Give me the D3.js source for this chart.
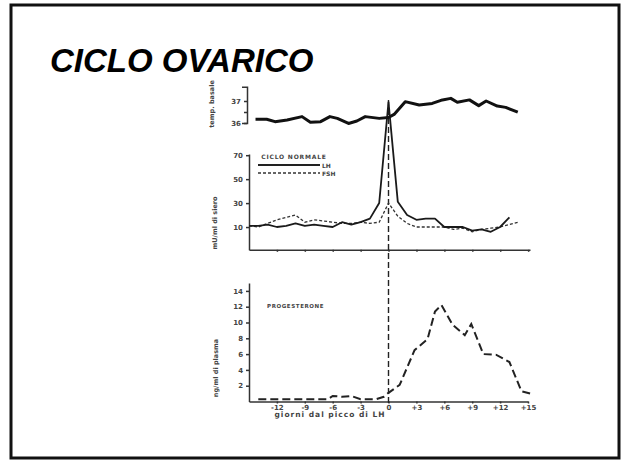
<!DOCTYPE html>
<html><head><meta charset="utf-8">
<script src="https://cdn.jsdelivr.net/npm/d3@7"></script>
<style>body{margin:0;background:#fff}svg{display:block}</style>
</head><body><svg id="c" width="623" height="461"></svg>
<script>
// ---- data ----
const title = "CICLO OVARICO";
const xTicks = [-12, -9, -6, -3, 0, 3, 6, 9, 12, 15];

const tempDays = [-14.3,-13.1,-12.2,-10.9,-9.3,-8.4,-7.3,-6.3,-5.5,-4.3,-3.4,-2.5,-1,0,0.6,1.8,3.3,4.7,5.8,6.7,7.4,8.7,9.7,10.5,11.7,12.6,13.9];
const tempVals = [36.17,36.17,36.06,36.14,36.29,36.03,36.06,36.29,36.21,35.98,36.09,36.29,36.21,36.25,36.39,36.97,36.82,36.89,37.05,37.12,36.94,37.05,36.79,37.0,36.77,36.71,36.49];
const tempTicks = [36, 36.5, 37];

const hormDays = [-15,-14,-13,-12,-11,-10,-9,-8,-7,-6,-5,-4,-3,-2,-1,0,1,2,3,4,5,6,7,8,9,10,11,12,13];
const lhVals  = [11,11,12,10,11,13,11,12,11,10,14,12,14,17,30,114,31,20,16,17,17,10,10,10,7,8,6,10,18];
const fshDays = [-15,-14,-13,-12,-11,-10,-9,-8,-7,-6,-5,-4,-3,-2,-1,0,1,2,3,4,5,6,7,8,9,10,11,12,13,14];
const fshVals = [11,10,13,16,18,20,14,16,15,14,13,13,14,13,14,30,19,13,10,10,10,10,8,9,6,8,9,10,12,14];
const hormTicks = [10, 30, 50, 70];

const progDays = [-14,-6.5,-6,-5,-4,-3,-1.3,-0.5,0,1.2,2.8,4.2,5,5.7,6.9,8.2,8.9,10.2,11.6,13,14.3,15.6];
const progVals = [0.3,0.3,0.7,0.6,0.7,0.3,0.3,0.6,1.1,2.1,6.5,7.9,11.4,12.2,9.7,8.4,9.8,6.0,5.9,5.0,1.3,0.9];
const progTicks = [2, 4, 6, 8, 10, 12, 14];

// ---- drawing ----
const svg = d3.select("#c");
svg.append("rect").attr("x", 11).attr("y", 5).attr("width", 608).attr("height", 453)
  .attr("fill", "#fff").attr("stroke", "#111").attr("stroke-width", 3);

svg.append("text").attr("x", 50).attr("y", 72).text(title)
  .attr("font-family", "Liberation Sans, Arial, sans-serif").attr("font-weight", "bold")
  .attr("font-style", "italic").attr("font-size", 33).attr("fill", "#000");

const x = d3.scaleLinear().domain([-15, 15]).range([249, 528]);
const yT = d3.scaleLinear().domain([36, 37]).range([123, 101]);
const yH = d3.scaleLinear().domain([-9, 70]).range([249.8, 155]);
const yP = d3.scaleLinear().domain([0, 14]).range([401.5, 290.9]);

const tickFont = g => g.selectAll("text").attr("font-family", "DejaVu Sans, sans-serif")
  .attr("font-weight", "bold").attr("font-size", 7).attr("fill", "#444");
const axStyle = g => { g.selectAll("path,line").attr("stroke", "#333").attr("stroke-width", 1.5); tickFont(g); };

// temperature axis
const yTax = yT.copy().domain([36, 37.65]).range([123, 86.7]);
svg.append("g").attr("transform", "translate(247,0)")
  .call(d3.axisLeft(yTax).tickValues(tempTicks).tickSize(3).tickSizeOuter(5).tickPadding(3)
    .tickFormat(d => d % 1 === 0 ? d : ""))
  .call(axStyle);

// hormones axes
const yHax = yH.copy().domain([-9, 71]).range([249.8, 154]);
svg.append("g").attr("transform", "translate(249,0)")
  .call(d3.axisLeft(yHax).tickValues(hormTicks).tickSize(3).tickSizeOuter(0).tickPadding(3))
  .call(axStyle);
svg.append("g").attr("transform", "translate(0,249.8)")
  .call(d3.axisBottom(x.copy().domain([-15, 15.2]).range([249, 530])).tickValues(xTicks).tickSize(2).tickSizeOuter(0).tickFormat(""))
  .call(axStyle);

// progesterone axes
const yPax = yP.copy().domain([0, 15]).range([401.5, 283]);
svg.append("g").attr("transform", "translate(249,0)")
  .call(d3.axisLeft(yPax).tickValues(progTicks).tickSize(3).tickSizeOuter(0).tickPadding(3))
  .call(axStyle);
svg.append("g").attr("transform", "translate(0,401.5)")
  .call(d3.axisBottom(x).tickValues(xTicks).tickSize(2).tickSizeOuter(0).tickPadding(2)
    .tickFormat(d => d > 0 ? "+" + d : d))
  .call(axStyle);

// axis titles
const lab = (txt, tx, ty, rot, size) => svg.append("text")
  .attr("transform", `translate(${tx},${ty}) rotate(${rot})`).attr("text-anchor", "middle")
  .attr("font-family", "DejaVu Sans, sans-serif").attr("font-weight", "bold")
  .attr("font-size", size).attr("fill", "#444").text(txt);
lab("temp. basale", 214, 104, -90, 6.5);
lab("mU/ml di siero", 217, 223, -90, 6.5);
lab("ng/ml di plasma", 218, 368, -90, 6.5);
lab("giorni dal picco di LH", 330, 417, 0, 7.5).attr("letter-spacing", 1);

// legend
lab("CICLO  NORMALE", 294, 159, 0, 6).attr("letter-spacing", 0.8);
svg.append("line").attr("x1", 258).attr("x2", 320).attr("y1", 165).attr("y2", 165)
  .attr("stroke", "#222").attr("stroke-width", 2);
svg.append("line").attr("x1", 258).attr("x2", 320).attr("y1", 173).attr("y2", 173)
  .attr("stroke", "#333").attr("stroke-width", 1.3).attr("stroke-dasharray", "3,2");
svg.append("text").attr("x", 322).attr("y", 167.5).text("LH").attr("font-family", "DejaVu Sans")
  .attr("font-weight", "bold").attr("font-size", 6).attr("fill", "#444");
svg.append("text").attr("x", 322).attr("y", 175.5).text("FSH").attr("font-family", "DejaVu Sans")
  .attr("font-weight", "bold").attr("font-size", 6).attr("fill", "#444");
svg.append("text").attr("x", 267).attr("y", 308).text("PROGESTERONE").attr("font-family", "DejaVu Sans")
  .attr("font-weight", "bold").attr("font-size", 5.5).attr("letter-spacing", 0.6).attr("fill", "#444");

// vertical dashed line at LH peak
svg.append("line").attr("x1", x(0)).attr("x2", x(0)).attr("y1", 100).attr("y2", 406)
  .attr("stroke", "#222").attr("stroke-width", 1.4).attr("stroke-dasharray", "6,3");

// series
const line = (xs, ys, yScale) => d3.line().x((d, i) => x(xs[i])).y(d => yScale(d))(ys);
svg.append("path").attr("d", line(fshDays, fshVals, yH)).attr("fill", "none")
  .attr("stroke", "#333").attr("stroke-width", 1.3).attr("stroke-dasharray", "3,2");
svg.append("path").attr("d", line(hormDays, lhVals, yH)).attr("fill", "none")
  .attr("stroke", "#1a1a1a").attr("stroke-width", 1.8).attr("stroke-linejoin", "round");
svg.append("path").attr("d", line(tempDays, tempVals, yT)).attr("fill", "none")
  .attr("stroke", "#111").attr("stroke-width", 3).attr("stroke-linejoin", "round");
svg.append("path").attr("d", line(progDays, progVals, yP)).attr("fill", "none")
  .attr("stroke", "#222").attr("stroke-width", 2).attr("stroke-dasharray", "8,4");
</script></body></html>
